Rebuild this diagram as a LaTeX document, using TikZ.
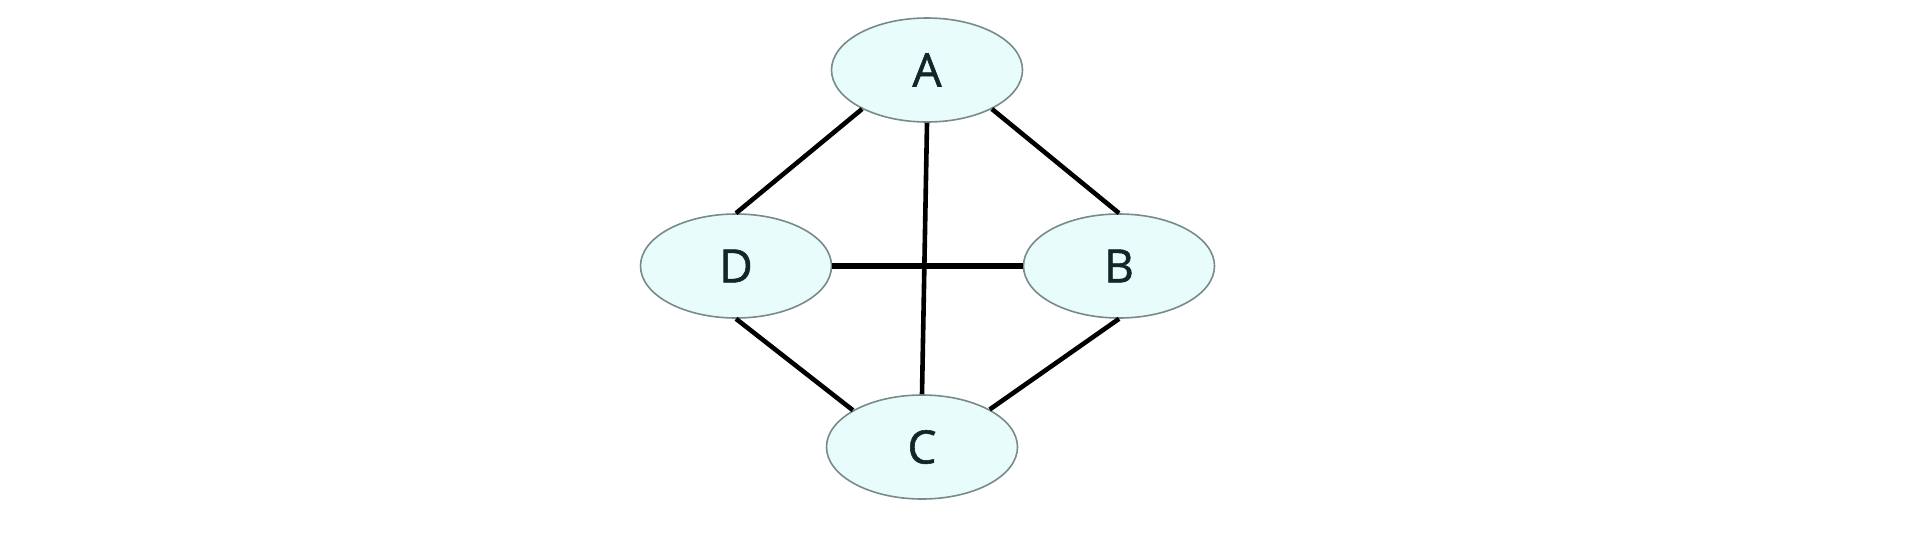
\documentclass[tikz,border=0pt]{standalone}
\usepackage{fontspec}
\setmainfont{Open Sans}
\usetikzlibrary{shapes.geometric}
\definecolor{nodefill}{RGB}{232,252,252}
\definecolor{nodeline}{RGB}{120,138,138}
\definecolor{labelcol}{RGB}{18,38,40}
\tikzset{
  vertex/.style={ellipse, draw=nodeline, line width=0.8pt, fill=nodefill,
    minimum width=95.5pt, minimum height=52pt, inner sep=0pt,
    font=\fontsize{23}{23}\selectfont\addfontfeature{FakeBold=1.2}, text=labelcol},
  link/.style={draw=black, line width=2.3pt},
  thicklink/.style={draw=black, line width=2.9pt}
}
\begin{document}
\begin{tikzpicture}[x=0.5pt, y=-0.5pt]
  \fill[white] (0,0) rectangle (1920,536);
  \useasboundingbox (0,0) rectangle (1920,536);
  \node[vertex] (A) at (927,70) {A};
  \node[vertex] (D) at (736,266) {D};
  \node[vertex] (B) at (1119,266) {B};
  \node[vertex] (C) at (922,447) {C};
  \draw[link] (A.211) -- (D.north);
  \draw[link] (A.329) -- (B.north);
  \draw[link] (D.south) -- (C.152);
  \draw[link] (B.south) -- (C.29);
  \draw[link] (A.south) -- (C.north);
  \draw[thicklink] (D.east) -- (B.west);
\end{tikzpicture}
\end{document}
